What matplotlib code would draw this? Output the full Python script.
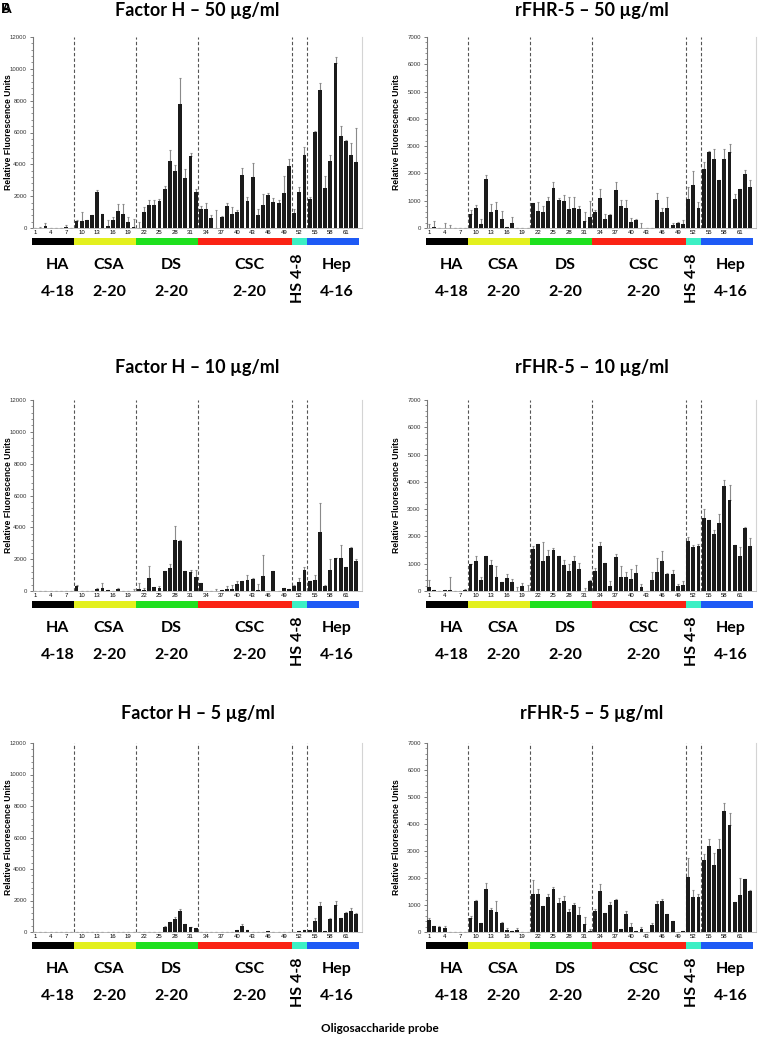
import matplotlib
matplotlib.use("Agg")
import matplotlib.pyplot as plt
import numpy as np
from matplotlib.patches import Rectangle
from matplotlib.ticker import MultipleLocator
import matplotlib.transforms as mtransforms

# probe numbers 1..63, grouped HA(8) CSA(12) DS(12) CSC(18) HS(3) Hep(10)
probes = np.arange(1, 64)

fh50 = [0, 20, 150, 0, 0, 0, 80, 0,
        420, 420, 525, 820, 2250, 880, 150, 525, 1050, 860, 380, 80,
        10, 1030, 1470, 1450, 1720, 2420, 4240, 3590, 7790, 3150, 4500, 2250,
        1220, 1180, 650, 0, 670, 1370, 880, 1030, 3360, 1720, 3220, 820, 1430, 2080, 1660, 1550, 2230, 3890,
        950, 2270, 4600,
        1800, 6030, 8660, 2520, 4180, 10380, 5760, 5440, 4600, 4140]
fh50_err = [0, 40, 150, 0, 0, 0, 120, 0,
            100, 560, 0, 0, 150, 0, 380, 190, 480, 670, 330, 460,
            380, 300, 300, 300, 120, 250, 630, 340, 1660, 550, 190, 170,
            170, 360, 170, 1130, 80, 230, 460, 120, 400, 210, 870, 380, 710, 100, 230, 230, 1030, 460,
            250, 310, 480,
            150, 60, 420, 730, 380, 340, 630, 60, 760, 2140]

rf50 = [0, 40, 0, 0, 0, 0, 0, 0,
        500, 730, 150, 1780, 600, 660, 340, 40, 170, 10, 10, 0,
        910, 630, 580, 980, 1450, 1010, 980, 700, 740, 700, 250, 420,
        570, 1100, 340, 480, 1400, 790, 750, 230, 280, 10, 0, 10, 1020, 590, 750, 110, 170, 150,
        1080, 1560, 730,
        2150, 2800, 2530, 1760, 2530, 2790, 1050, 1430, 1980, 1500]
rf50_err = [130, 210, 0, 200, 100, 0, 0, 0,
            150, 120, 170, 170, 270, 300, 270, 0, 250, 0, 0, 0,
            0, 340, 230, 140, 220, 80, 230, 440, 380, 110, 320, 580,
            100, 340, 160, 30, 270, 250, 270, 120, 40, 180, 0, 0, 280, 160, 400, 80, 60, 130,
            440, 520, 210,
            270, 40, 370, 0, 370, 280, 200, 0, 150, 260]

fh10 = [0, 0, 0, 0, 0, 0, 0, 0,
        290, 0, 20, 0, 150, 210, 80, 0, 120, 0, 0, 20,
        100, 40, 840, 230, 190, 1280, 1420, 3220, 3160, 1260, 1190, 900,
        480, 0, 0, 0, 40, 120, 120, 460, 610, 670, 750, 40, 940, 0, 1280, 0, 190, 100,
        290, 560, 1300,
        610, 670, 3680, 330, 1340, 2050, 2090, 1490, 2720, 1880]
fh10_err = [0, 0, 0, 0, 0, 0, 0, 0,
            60, 0, 0, 0, 60, 290, 0, 0, 60, 0, 0, 120,
            420, 120, 730, 0, 150, 0, 270, 880, 60, 0, 150, 420,
            0, 0, 0, 100, 0, 190, 230, 170, 0, 330, 80, 380, 1320, 0, 0, 0, 0, 0,
            100, 270, 210,
            0, 360, 1860, 60, 690, 0, 790, 0, 30, 120]

rf10 = [130, 40, 0, 20, 50, 0, 0, 30,
        1000, 1110, 390, 1280, 940, 510, 320, 460, 320, 0, 200, 0,
        1530, 1710, 1100, 1280, 1490, 1270, 970, 730, 1100, 790, 0, 380,
        720, 1640, 1030, 170, 1250, 500, 510, 450, 660, 150, 0, 420, 690, 1100, 610, 610, 180, 210,
        1820, 1600, 1650,
        2670, 2590, 2090, 2510, 3860, 3350, 1670, 1270, 2300, 1640]
rf10_err = [260, 0, 0, 20, 460, 0, 0, 60,
            0, 180, 110, 0, 210, 390, 0, 170, 130, 130, 100, 230,
            130, 0, 700, 220, 100, 0, 180, 250, 170, 230, 100, 40,
            120, 160, 0, 180, 120, 420, 180, 340, 280, 100, 0, 270, 530, 350, 40, 170, 80, 150,
            170, 80, 80,
            320, 30, 130, 300, 220, 540, 0, 340, 30, 290]

fh5 = [0, 0, 0, 0, 0, 0, 0, 0,
       0, 0, 0, 0, 0, 0, 0, 0, 0, 0, 0, 0,
       0, 0, 0, 0, 0, 320, 620, 850, 1320, 480, 330, 280,
       0, 0, 0, 0, 0, 0, 0, 100, 380, 150, 0, 0, 0, 50, 0, 0, 0, 0,
       0, 80, 150,
       150, 680, 1650, 40, 850, 1700, 900, 1200, 1330, 1150]
fh5_err = [0, 0, 0, 0, 0, 0, 0, 0,
           0, 0, 0, 0, 0, 0, 0, 0, 0, 0, 0, 0,
           0, 0, 0, 0, 0, 60, 0, 120, 170, 0, 0, 0,
           0, 0, 0, 0, 0, 0, 0, 0, 100, 0, 0, 0, 0, 0, 0, 0, 0, 0,
           0, 0, 0,
           0, 180, 250, 0, 40, 300, 0, 100, 200, 50]

rf5 = [440, 240, 170, 140, 0, 0, 0, 0,
       520, 1130, 330, 1600, 800, 750, 330, 60, 30, 80, 0, 0,
       1420, 1390, 960, 1310, 1600, 1080, 1130, 740, 1000, 630, 300, 20,
       790, 1520, 700, 1000, 1170, 120, 680, 200, 50, 120, 0, 260, 1020, 1130, 650, 400, 0, 20,
       2040, 1300, 1300,
       2670, 3190, 2500, 3070, 4490, 3970, 1110, 1380, 1950, 1510]
rf5_err = [80, 0, 60, 70, 0, 0, 0, 0,
           80, 60, 0, 230, 100, 380, 50, 100, 0, 60, 0, 0,
           510, 220, 0, 80, 60, 170, 220, 100, 80, 300, 250, 80,
           80, 250, 0, 100, 60, 0, 80, 150, 0, 80, 0, 80, 120, 80, 0, 0, 0, 0,
           690, 250, 120,
           220, 260, 440, 380, 280, 430, 0, 610, 30, 60]

titles = ["Factor H \u2013 50 \u00b5g/ml", "rFHR-5 \u2013 50 \u00b5g/ml",
          "Factor H \u2013 10 \u00b5g/ml", "rFHR-5 \u2013 10 \u00b5g/ml",
          "Factor H \u2013 5 \u00b5g/ml", "rFHR-5 \u2013 5 \u00b5g/ml"]

groups = ["HA", "CSA", "DS", "CSC", "HS", "Hep"]
group_ranges = ["4-18", "2-20", "2-20", "2-20", "4-8", "4-16"]
group_bounds = [0.5, 8.5, 20.5, 32.5, 50.5, 53.5, 63.5]
group_colors = ["#000000", "#e3f01e", "#1ee01e", "#fa2314", "#3cf0c4", "#1e5af5"]
x_ticks = list(range(1, 62, 3))

panels = [(fh50, fh50_err, 12000, 2000), (rf50, rf50_err, 7000, 1000),
          (fh10, fh10_err, 12000, 2000), (rf10, rf10_err, 7000, 1000),
          (fh5, fh5_err, 12000, 2000), (rf5, rf5_err, 7000, 1000)]

W, H = 758, 1040
fig = plt.figure(figsize=(W / 100, H / 100), dpi=100)

cols = [(33, 362), (427, 756)]
rows = [(37, 228), (400, 591), (743, 932)]
title_y = [1.141, 1.168, 1.157]

bold_font = "Lato"
tick_font = "Liberation Sans"

for i, (vals, errs, ymax, ystep) in enumerate(panels):
    r, c = divmod(i, 2)
    x0, x1 = cols[c]
    y0, y1 = rows[r]
    ax = fig.add_axes([x0 / W, 1 - y1 / H, (x1 - x0) / W, (y1 - y0) / H])
    hpx = y1 - y0

    vals = np.array(vals, dtype=float)
    errs = np.array(errs, dtype=float)
    ax.bar(probes, vals, width=0.74, color="#1b1b1b", zorder=3)
    ax.errorbar(probes, vals, yerr=[np.zeros_like(errs), errs], fmt="none",
                ecolor="#8a8a8a", elinewidth=0.8, capsize=1.0, capthick=0.8, zorder=2)

    for b in group_bounds[1:-1]:
        ax.axvline(b, color="#555555", lw=0.8, ls=(0, (3, 2)), zorder=1)

    ax.set_xlim(0.6, 64.1)
    ax.set_ylim(0, ymax)
    ax.set_xticks(x_ticks)
    ax.set_xticklabels([str(t) for t in x_ticks], fontsize=4.3, family=tick_font)
    ax.tick_params(axis="x", length=0, pad=1.5)
    ax.yaxis.set_major_locator(MultipleLocator(ystep))
    ax.yaxis.set_minor_locator(MultipleLocator(ystep / 5))
    ax.tick_params(axis="y", which="major", labelsize=4.3, length=2, width=0.6,
                   color="#666666", pad=2.5)
    ax.tick_params(axis="y", which="minor", length=1.2, width=0.5, color="#666666")
    for lab in ax.get_yticklabels():
        lab.set_family(tick_font)
        lab.set_color("#333333")
    ax.set_ylabel("Relative Fluorescence Units", fontsize=6.2, fontweight="bold",
                  family=tick_font)
    ax.yaxis.set_label_coords(-0.062 if c == 0 else -0.078, 0.5)

    ax.spines["top"].set_visible(False)
    ax.spines["right"].set_color("#d4d4d4")
    ax.spines["right"].set_linewidth(0.8)
    ax.spines["left"].set_color("#777777")
    ax.spines["left"].set_linewidth(0.8)
    ax.spines["bottom"].set_color("#b0b0b0")
    ax.spines["bottom"].set_linewidth(0.6)

    ax.text(0.5, title_y[r], titles[i], transform=ax.transAxes, ha="center",
            va="center", fontsize=13, fontweight="bold", family=bold_font)

    trans = mtransforms.blended_transform_factory(ax.transData, ax.transAxes)
    s_top = -10 / hpx
    s_h = 7 / hpx
    for k in range(len(groups)):
        a, b = group_bounds[k], group_bounds[k + 1]
        ax.add_patch(Rectangle((a, s_top - s_h), b - a, s_h, transform=trans,
                               color=group_colors[k], clip_on=False, lw=0))
        xc = (a + b) / 2
        if groups[k] == "HS":
            ax.text(xc - 0.2, -50 / hpx, "HS " + group_ranges[k], transform=trans,
                    rotation=90, ha="center", va="center", fontsize=11.5,
                    fontweight="bold", family=bold_font)
        else:
            ax.text(xc + 0.8, -37 / hpx, groups[k], transform=trans, ha="center",
                    va="center", fontsize=11.5, fontweight="bold", family=bold_font)
            ax.text(xc + 0.8, -64 / hpx, group_ranges[k], transform=trans,
                    ha="center", va="center", fontsize=11.5, fontweight="bold",
                    family=bold_font)

fig.text(380 / W, 1 - 1028 / H, "Oligosaccharide probe", ha="center", va="center",
         fontsize=8.5, fontweight="bold", family=bold_font)
fig.text(1 / W, 1 - 9 / H, "B", ha="left", va="center", fontsize=10,
         fontweight="bold", family=bold_font)
fig.text(1 / W, 1 - 9 / H, "A", ha="left", va="center", fontsize=10,
         fontweight="bold", family=bold_font)

fig.savefig("out.png", dpi=100)
